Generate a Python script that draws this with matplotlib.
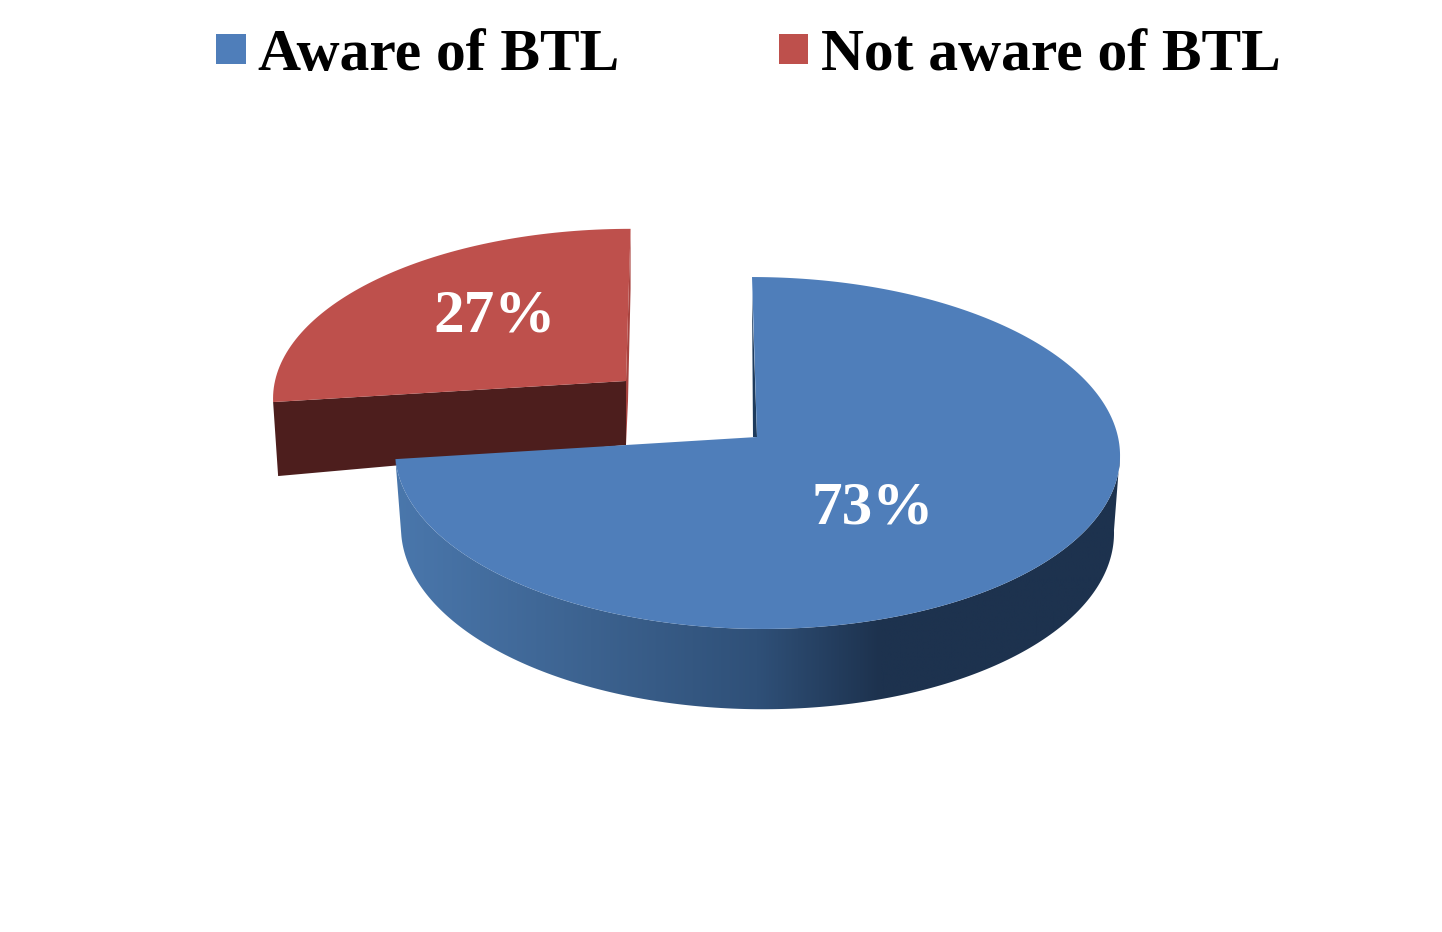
import numpy as np
import matplotlib
matplotlib.use("Agg")
import matplotlib.pyplot as plt
from matplotlib.colors import LinearSegmentedColormap
from matplotlib.patches import Patch, Polygon

labels = ["Aware of BTL", "Not aware of BTL"]
shares = [73, 27]

BLUE = "#4F7EBA"
RED = "#BE504C"
DARK_RED = "#4D1E1D"
SIDE_BLUE = [(0, "#4A77AC"), (0.27, "#3C628F"), (0.5, "#2F5078"), (0.67, "#1D324E"), (1, "#1D324E")]

# perspective of the tilted disc, farther points shrink
K = 0.0909


def rim(deg, cx, cy, rx, ry, shear):
    """point(s) on the disc edge, angle clockwise from 12 o'clock"""
    a = np.radians(deg)
    u, v = np.sin(a), np.cos(a)
    w = 1 + K * v
    return np.column_stack([cx + (rx * u + shear * v) / w, cy - ry * v / w])


fig = plt.figure(figsize=(14.42, 9.32), dpi=100)
ax = fig.add_axes([0, 0, 1, 1])

split = shares[0] * 3.6

# red slice, pulled out to the back
red_apex = np.array([626, 381])
red_arc = rim(np.linspace(split, 360, 80), 626, 381, 351, 166, 5)
left_corner = red_arc[0]
ax.add_patch(Polygon([left_corner, red_apex, red_apex + [0, 64], left_corner + [5, 74]],
                     closed=True, fc=DARK_RED, ec="none", zorder=1))
ax.add_patch(Polygon([red_arc[-1], red_apex, red_apex + [0, 64], red_apex + [2, 20], red_arc[-1] + [0, 60]],
                     closed=True, fc="#A8433F", ec="none", zorder=1))
ax.add_patch(Polygon(np.vstack([red_apex, red_arc]), closed=True, fc=RED, ec="none", zorder=2))

# blue slice: side wall with gradient, then the top
blue_apex = np.array([757, 437])
tangent = np.degrees(np.arccos(-K))
upper = rim(np.linspace(tangent, split, 200), 757, 437, 361, 174.5, -5.45)
lower = rim(np.linspace(split, tangent, 200), 757, 514, 355, 177.5, -5.45)
side = Polygon(np.vstack([upper, lower]), closed=True, fc="none", ec="none", zorder=3)
ax.add_patch(side)
cmap = LinearSegmentedColormap.from_list("side", SIDE_BLUE)
img = ax.imshow(np.linspace(0, 1, 256).reshape(1, -1), cmap=cmap, aspect="auto",
                extent=(395, 1120, 720, 440), zorder=3)
img.set_clip_path(side)

top_arc = rim(np.linspace(0, split, 300), 757, 437, 361, 174.5, -5.45)
ax.add_patch(Polygon([top_arc[0] + [0, 15], blue_apex, blue_apex + [-4, 0]],
                     closed=True, fc="#1D3A5C", ec="none", zorder=3))
ax.add_patch(Polygon(np.vstack([blue_apex, top_arc]), closed=True, fc=BLUE, ec="none", zorder=4))

# percent labels
ax.text(873, 509, f"{shares[0]}%", color="white", fontsize=44, fontweight="bold",
        family="Liberation Serif", ha="center", va="center", zorder=5)
ax.text(495, 316, f"{shares[1]}%", color="white", fontsize=44, fontweight="bold",
        family="Liberation Serif", ha="center", va="center", zorder=5)

handles = [Patch(fc=BLUE, ec="none"), Patch(fc=RED, ec="none")]
ax.legend(handles, labels, ncol=2, loc="upper left", bbox_to_anchor=(216, 29), bbox_transform=ax.transData,
          frameon=False, borderpad=0, borderaxespad=0, handlelength=0.5, handleheight=0.396,
          handletextpad=0.21, columnspacing=2.68,
          prop={"family": "Liberation Serif", "weight": "bold", "size": 42.8})

ax.set_xlim(0, 1442)
ax.set_ylim(932, 0)
ax.axis("off")

plt.savefig("out.png", dpi=100)
